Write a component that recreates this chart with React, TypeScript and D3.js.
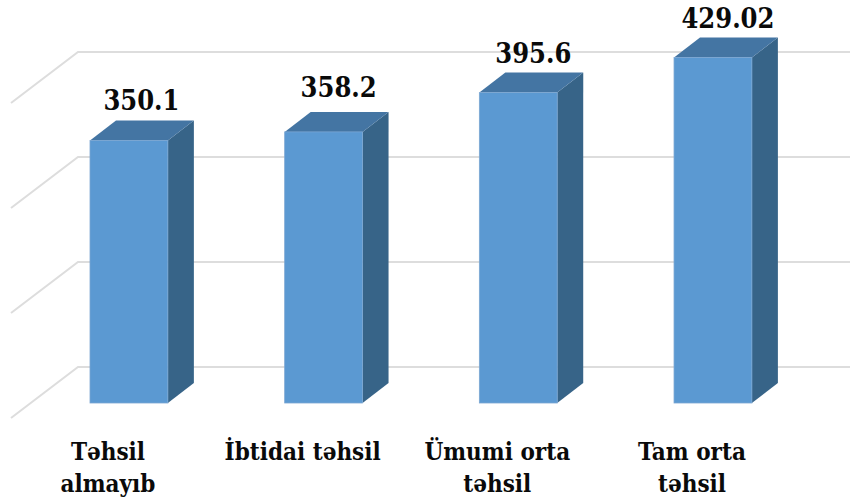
import React, { useEffect, useRef } from 'react';
import * as d3 from 'd3';

const categories = ['Təhsil almayıb', 'İbtidai təhsil', 'Ümumi orta təhsil', 'Tam orta təhsil'];
const categoryLines = [['Təhsil', 'almayıb'], ['İbtidai təhsil'], ['Ümumi orta', 'təhsil'], ['Tam orta', 'təhsil']];
const values = [350.1, 358.2, 395.6, 429.02];
const gridTicks = [100, 200, 300, 400];

const width = 850;
const height = 500;
const FONT = '"DejaVu Serif", serif';

function App() {
  const svgRef = useRef<SVGSVGElement>(null);

  useEffect(() => {
    if (!svgRef.current) return;

    const svg = d3.select(svgRef.current);
    svg.selectAll('*').remove();

    const x = d3.scaleBand<string>()
      .domain(categories)
      .range([31.6, 810.3])
      .paddingInner(0.6)
      .paddingOuter(0.3);

    const y = d3.scaleLinear().domain([100, 400]).range([403, 88]);

    // 3d offsets
    const depthX = 26;
    const depthY = 20;

    // walls: the floor edge runs down to the left, the back wall goes on to the right
    const gridPath = (v: number) => {
      const yy = y(v);
      return `M11,${yy + 15} L78,${yy - 36} L${width},${yy - 36}`;
    };

    svg.append('g')
      .selectAll('path')
      .data(gridTicks)
      .join('path')
      .attr('d', d => gridPath(d))
      .attr('fill', 'none')
      .attr('stroke', '#dddddd')
      .attr('stroke-width', 2);

    const bars = svg.append('g')
      .selectAll('g')
      .data(categories)
      .join('g');

    const bw = x.bandwidth();
    const edge = '#7ba6d2';

    // side face
    bars.append('path')
      .attr('d', (d, i) => {
        const x1 = (x(d) as number) + bw;
        const top = y(values[i]);
        const bottom = y(100);
        return `M${x1},${top} L${x1 + depthX},${top - depthY} L${x1 + depthX},${bottom - depthY} L${x1},${bottom} Z`;
      })
      .attr('fill', '#376488');

    // top face
    bars.append('path')
      .attr('d', (d, i) => {
        const x0 = x(d) as number;
        const top = y(values[i]);
        return `M${x0},${top} L${x0 + depthX},${top - depthY} L${x0 + bw + depthX},${top - depthY} L${x0 + bw},${top} Z`;
      })
      .attr('fill', '#4475a3');

    // front face
    bars.append('rect')
      .attr('x', d => x(d) as number)
      .attr('y', (d, i) => y(values[i]))
      .attr('width', bw)
      .attr('height', (d, i) => y(100) - y(values[i]))
      .attr('fill', '#5b99d2')
      .attr('stroke', edge)
      .attr('stroke-width', 0.8);

    // value labels, the second one sits a bit higher in the original
    svg.append('g')
      .selectAll('text')
      .data(categories)
      .join('text')
      .attr('x', (d, i) => (x(d) as number) + bw / 2 + (i === 0 ? 12.5 : 15))
      .attr('y', (d, i) => y(values[i]) - (i === 1 ? 35 : 30))
      .attr('text-anchor', 'middle')
      .attr('font-family', FONT)
      .attr('font-stretch', 'condensed')
      .attr('font-weight', 'bold')
      .attr('font-size', 27)
      .attr('fill', '#0a0a0a')
      .text((d, i) => String(values[i]));

    // category labels
    const labels = svg.append('g')
      .selectAll('text')
      .data(categories)
      .join('text')
      .attr('text-anchor', 'middle')
      .attr('font-family', FONT)
      .attr('font-stretch', 'condensed')
      .attr('font-weight', 'bold')
      .attr('font-size', 24)
      .attr('fill', '#0a0a0a');

    labels.each(function (d, i) {
      const cx = (x(d) as number) + bw / 2 - 21;
      d3.select(this)
        .selectAll('tspan')
        .data(categoryLines[i])
        .join('tspan')
        .attr('x', cx)
        .attr('y', (_, j) => 460 + j * 31.5)
        .text(line => line);
    });
  }, []);

  return (
    <svg
      ref={svgRef}
      width={width}
      height={height}
      viewBox={`0 0 ${width} ${height}`}
      style={{ position: 'absolute', left: 0, top: 0, background: '#fff' }}
    />
  );
}

export default App;
